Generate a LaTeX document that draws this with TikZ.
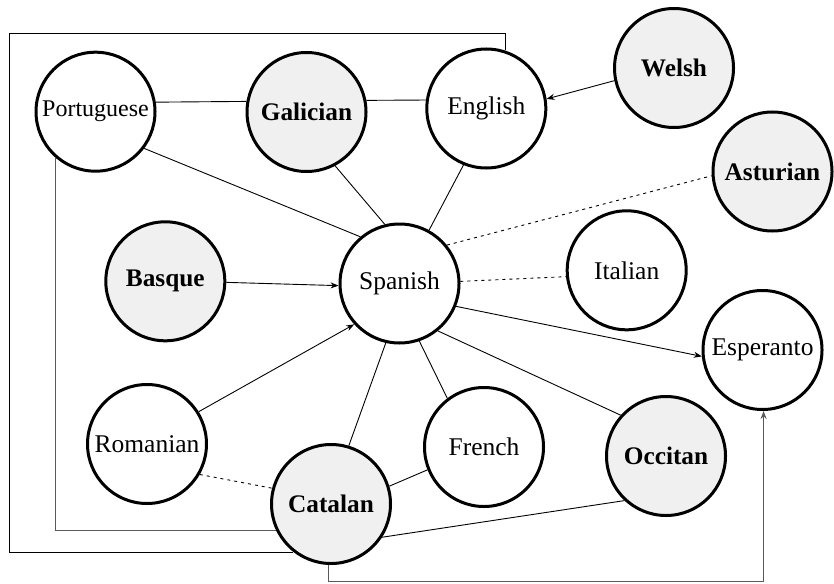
\documentclass[tikz,border=0pt]{standalone}
\usepackage{fontspec}
\setmainfont{Liberation Serif}
\usetikzlibrary{arrows.meta}
\definecolor{nodefill}{HTML}{F0F0F0}
\definecolor{boxgray}{HTML}{5A5A5A}
\begin{document}
\begin{tikzpicture}[x=1pt,y=1pt,
 lang/.style={circle,draw,line width=3pt,minimum size=119pt,inner sep=0pt,fill=white,font=\fontsize{25.5}{30}\selectfont},
 hl/.style={lang,fill=nodefill,font=\fontsize{25.3}{30}\selectfont\bfseries},
 conn/.style={line width=0.9pt},
 dotline/.style={conn,dash pattern=on 3pt off 4pt},
 arr/.style={conn,-{Stealth[length=8pt,width=6pt]}},
 grayline/.style={line width=1.2pt,draw=boxgray}
]
\useasboundingbox (0,0) rectangle (834,-583);
\node[lang] (por) at (95.5,-111.7) {\fontsize{24}{30}\selectfont Portuguese};
\node[hl] (gal) at (306.5,-112) {Galician};
\node[lang] (eng) at (486.3,-108.5) {English};
\node[hl] (wel) at (674,-68) {Welsh};
\node[hl] (ast) at (772.5,-171.5) {Asturian};
\node[hl] (bas) at (165.3,-281.3) {Basque};
\node[lang] (spa) at (399.5,-283.5) {Spanish};
\node[lang] (ita) at (626.7,-270.3) {Italian};
\node[lang] (esp) at (762.5,-350) {Esperanto};
\node[lang] (rom) at (147,-444) {Romanian};
\node[lang] (fre) at (484,-447) {French};
\node[hl] (occ) at (666,-456) {Occitan};
\node[hl] (cat) at (331,-504) {Catalan};
\draw[conn] (por.9.7) -- (gal.170.3);
\draw[conn] (gal.11) -- (eng.172);
\draw[conn] (por.-37.2) -- (spa.130.7);
\draw[conn] (gal.-62.2) -- (spa.104.4);
\draw[conn] (eng.-112.3) -- (spa.61.6);
\draw[arr] (wel.192.7) -- (eng.9.6);
\draw[dotline] (spa.39) -- (ast.184.7);
\draw[arr] (bas.-1.9) -- (spa.182.4);
\draw[dotline] (spa.2.3) -- (ita.186);
\draw[arr] (spa.-22.3) -- (esp.186.3);
\draw[arr] (rom.32.1) -- (spa.222);
\draw[conn] (spa.-103.5) -- (cat.73.2);
\draw[conn] (spa.-71.2) -- (fre.127.4);
\draw[conn] (spa.-51.2) -- (occ.138.7);
\draw[conn] (cat.17.6) -- (fre.202.5);
\draw[conn] (cat.-33.3) -- (occ.227);
\draw[dotline] (rom.-30.3) -- (cat.165.6);
\coordinate (tl) at (9.5,-33);
\coordinate (botline) at (0,-581.5);
\draw[conn] (eng.72) |- (tl) |- (cat.232);
\draw[grayline] (por.229.7) |- (cat.206);
\draw[grayline,-{Stealth[length=8pt,width=6pt]}] (cat.268) -- (cat.268 |- botline) -| (esp.271);
\end{tikzpicture}
\end{document}
